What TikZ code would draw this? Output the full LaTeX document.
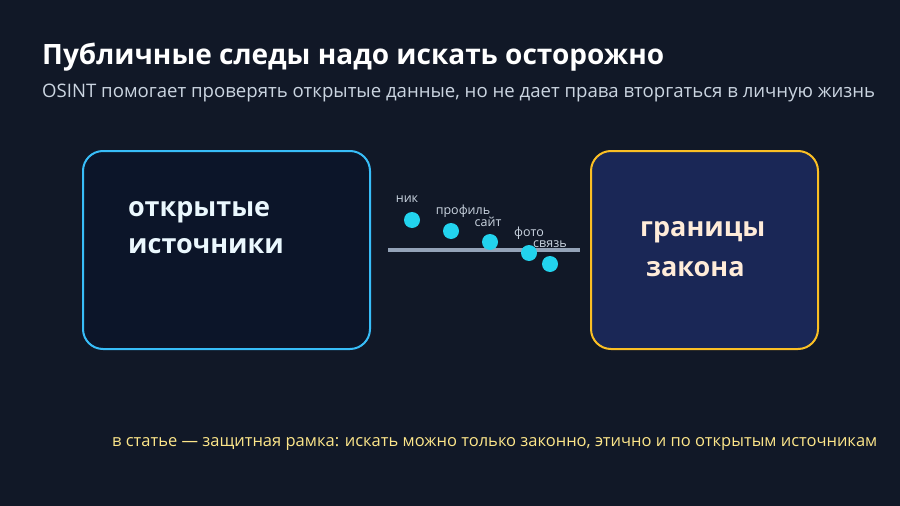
\documentclass[tikz,border=0pt]{standalone}
\usepackage{fontspec}
\setmainfont{Open Sans}
\usetikzlibrary{positioning}
\definecolor{bgc}{HTML}{111827}
\definecolor{skyc}{HTML}{38BDF8}
\definecolor{ambc}{HTML}{FBBF24}
\definecolor{leftfill}{HTML}{0C1529}
\definecolor{rightfill}{HTML}{1A2756}
\definecolor{barc}{HTML}{94A3B8}
\definecolor{dotc}{HTML}{22D3EE}
\definecolor{subc}{HTML}{CBD5E1}
\definecolor{notec}{HTML}{FDE68A}
\begin{document}
\begin{tikzpicture}[
        x=1pt, y=-1pt,
        panel/.style={draw, line width=2pt, rounded corners=20pt},
        tag/.style={font=\fontsize{12.5}{12}\selectfont, text=subc, inner sep=0pt},
        dot/.style={circle, fill=dotc, minimum size=16pt, inner sep=0pt}
    ]
        \fill[bgc] (0,0) rectangle (900,506);
        \useasboundingbox (0,0) rectangle (900,506);

        \node[anchor=west, text=white, font=\fontsize{28}{28}\selectfont\bfseries, inner sep=0pt] (title) at (42,57) {Публичные следы надо искать осторожно};
        \node[anchor=west, text=subc, font=\fontsize{18.6}{18}\selectfont, inner sep=0pt] (sub) at (42,93) {OSINT помогает проверять открытые данные, но не дает права вторгаться в личную жизнь};

        \draw[panel, skyc, fill=leftfill] (83,151) rectangle (370,349);
        \draw[panel, ambc, fill=rightfill] (591,151) rectangle (818,349);
        \node[anchor=west, align=left, text=cyan!8, font=\fontsize{27}{37}\selectfont\bfseries, inner sep=0pt] (src) at (128,228) {открытые\\источники};
        \node[anchor=west, align=left, text=orange!15, font=\fontsize{27}{40}\selectfont\bfseries, inner sep=0pt] (law) at (640,249) {границы\\\hspace{6pt}закона};

        \draw[barc, line width=4pt] (388,250) -- (580,250);
        \foreach \px/\py in {412/220, 451/231, 490/242, 529/253, 550/264}
            \node[dot] at (\px,\py) {};
        \foreach \lx/\ly/\txt in {407/199/ник, 463/211/профиль, 488/222/сайт, 529/233/фото, 550/244/связь}
            \node[tag] at (\lx,\ly) {\txt};

        \node[anchor=west, text=notec, font=\fontsize{16.5}{16}\selectfont, inner sep=0pt] (note) at (112,444) {в статье — защитная рамка: искать можно только законно, этично и по открытым источникам};
    \end{tikzpicture}
\end{document}
